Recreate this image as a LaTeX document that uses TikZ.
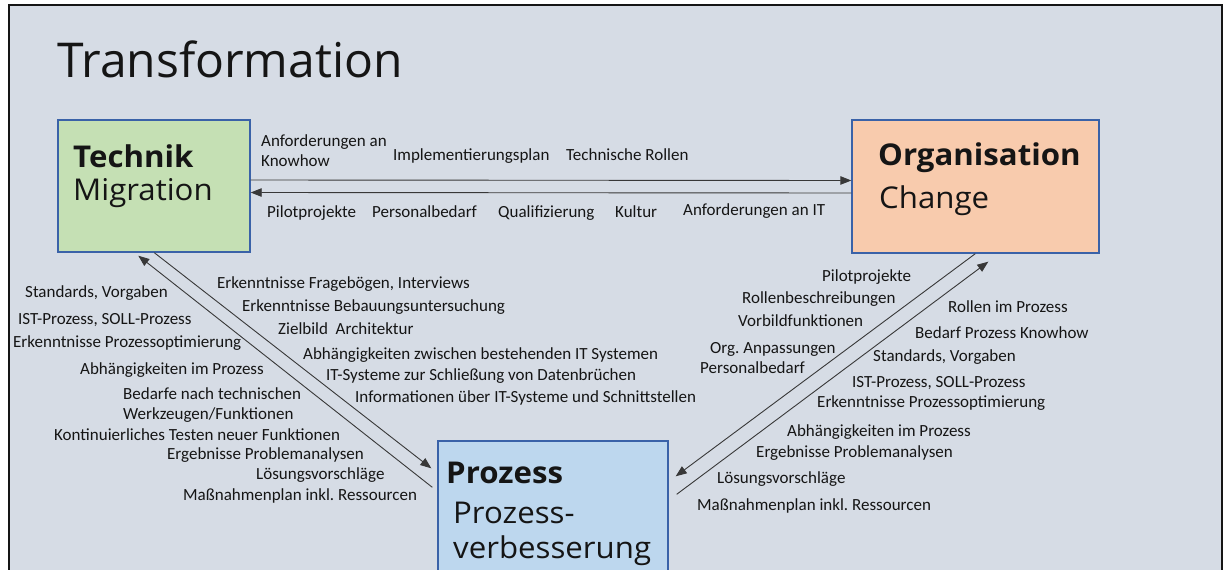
\documentclass[tikz,border=0pt]{standalone}
\usepackage{fontspec}
\setmainfont{Carlito}
\newfontfamily\headfont{Open Sans}
\newfontfamily\boxfont[FakeStretch=1.04]{Open Sans}
\usetikzlibrary{arrows.meta,calc}
\definecolor{canvas}{HTML}{D6DCE5}
\definecolor{techfill}{HTML}{C5E0B4}
\definecolor{orgfill}{HTML}{F8CBAD}
\definecolor{prozfill}{HTML}{BDD7EE}
\definecolor{boxline}{HTML}{3A62A8}
\definecolor{ink}{HTML}{151515}
\tikzset{
  box/.style={draw=boxline, line width=1.4pt, rectangle, inner sep=0pt},
  arr/.style={draw=ink!85, line width=0.9pt, -{Triangle[length=11pt,width=8.5pt]}},
  lbl/.style={anchor=west, inner sep=0pt, text=ink, font=\fontsize{17}{20}\selectfont,
              text height=11pt, text depth=3pt},
  boxtitle/.style={anchor=base west, inner sep=0pt, text=ink, font=\boxfont\bfseries\fontsize{30}{35}\selectfont},
  boxsub/.style={anchor=base west, inner sep=0pt, text=ink, font=\boxfont\fontsize{30}{35}\selectfont},
}
\begin{document}
\frenchspacing
\begin{tikzpicture}[x=1pt,y=-1pt]
\useasboundingbox (0,0) rectangle (1224,570);
\fill[white] (0,0) rectangle (1224,570);
% slide canvas with its frame
\fill[canvas] (9,5) rectangle (1222,590);
\draw[line width=2.6pt, ink] (9,590) -- (9,5) -- (1222,5) -- (1222,590);

% heading
\node[anchor=base west, inner sep=0pt, text=ink, font=\headfont\fontsize{48}{56}\selectfont] (title) at (57,77) {Transformation};

% the three areas
\node[box, fill=techfill, minimum width=192pt, minimum height=132pt] (tech) at (154,186) {};
\node[box, fill=orgfill, minimum width=247pt, minimum height=133pt] (org) at (975.5,186.5) {};
\node[box, fill=prozfill, minimum width=230pt, minimum height=160pt] (proz) at (553,521) {};

\node[boxtitle] (techT) at (73,167) {Technik};
\node[boxsub] (techS) at (73,200) {Migration};
\node[boxtitle] (orgT) at (878,165) {Organisation};
\node[boxsub] (orgS) at (879,208) {Change};
\node[boxtitle] (prozT) at (446,483) {Prozess};
\node[boxsub, align=left] (prozS) at (453,558) {Prozess-\\verbesserung};

% Technik <-> Organisation
\draw[arr] ([yshift=6pt]tech.east) -- ([yshift=6pt]org.west);
\draw[arr] ([yshift=-6.5pt]org.west) -- ([yshift=-6.5pt]tech.east);

% end points of the diagonal flows
\coordinate (tA) at ($(tech.south west)+(81,3)$);
\coordinate (tB) at ($(tech.south west)+(97,0)$);
\coordinate (pA) at ($(proz.north west)+(-5,47)$);
\coordinate (pB) at ($(proz.north west)+(-6,28)$);
\coordinate (pC) at ($(proz.north east)+(7,36)$);
\coordinate (pD) at ($(proz.north east)+(8,54)$);
\coordinate (oA) at ($(org.south west)+(124,0)$);
\coordinate (oB) at ($(org.south west)+(137,8)$);

\draw[arr] (pA) -- (tA);
\draw[arr] (tB) -- (pB);
\draw[arr] (oA) -- (pC);
\draw[arr] (pD) -- (oB);

% labels between Technik and Organisation
\node[lbl, align=left] (h1) at (261,162) {Anforderungen an\\Knowhow};
\node[lbl] (h2) at (393,156) {Implementierungsplan};
\node[lbl] (h3) at (566,156) {Technische Rollen};
\node[lbl] (h4) at (267,213) {Pilotprojekte};
\node[lbl] (h5) at (372,213) {Personalbedarf};
\node[lbl] (h6) at (498,213) {Qualifizierung};
\node[lbl] (h7) at (615,213) {Kultur};
\node[lbl] (h8) at (683,211) {Anforderungen an IT};

% labels Prozess -> Technik
\node[lbl] (l1) at (25,293) {Standards, Vorgaben};
\node[lbl] (l2) at (18,320) {IST-Prozess, SOLL-Prozess};
\node[lbl] (l3) at (13,343) {Erkenntnisse Prozessoptimierung};
\node[lbl] (l4) at (80,370) {Abhängigkeiten im Prozess};
\node[lbl, align=left] (l5) at (123,415) {Bedarfe nach technischen\\Werkzeugen/Funktionen};
\node[lbl] (l6) at (54,436) {Kontinuierliches Testen neuer Funktionen};
\node[lbl] (l7) at (167,455) {Ergebnisse Problemanalysen};
\node[lbl] (l8) at (256,475) {Lösungsvorschläge};
\node[lbl] (l9) at (183,496) {Maßnahmenplan inkl. Ressourcen};

% labels Technik -> Prozess
\node[lbl] (m1) at (217,284) {Erkenntnisse Fragebögen, Interviews};
\node[lbl] (m2) at (242,307) {Erkenntnisse Bebauungsuntersuchung};
\node[lbl] (m3) at (278,330) {Zielbild\ \ Architektur};
\node[lbl] (m4) at (303,355) {Abhängigkeiten zwischen bestehenden IT Systemen};
\node[lbl] (m5) at (326,376) {IT-Systeme zur Schließung von Datenbrüchen};
\node[lbl] (m6) at (355,398) {Informationen über IT-Systeme und Schnittstellen};

% labels Organisation -> Prozess
\node[lbl] (o1) at (822,277) {Pilotprojekte};
\node[lbl] (o2) at (742,299) {Rollenbeschreibungen};
\node[lbl] (o3) at (738,322) {Vorbildfunktionen};
\node[lbl, align=left] (o4) at (700,369) {\hspace*{10pt}Org. Anpassungen\\Personalbedarf};

% labels Prozess -> Organisation
\node[lbl] (r1) at (948,308) {Rollen im Prozess};
\node[lbl] (r2) at (915,334) {Bedarf Prozess Knowhow};
\node[lbl] (r3) at (873,357) {Standards, Vorgaben};
\node[lbl] (r4) at (852,383) {IST-Prozess, SOLL-Prozess};
\node[lbl] (r5) at (817,403) {Erkenntnisse Prozessoptimierung};
\node[lbl] (r6) at (787,432) {Abhängigkeiten im Prozess};
\node[lbl] (r7) at (756,453) {Ergebnisse Problemanalysen};
\node[lbl] (r8) at (717,479) {Lösungsvorschläge};
\node[lbl] (r9) at (697,506) {Maßnahmenplan inkl. Ressourcen};
\end{tikzpicture}
\end{document}
